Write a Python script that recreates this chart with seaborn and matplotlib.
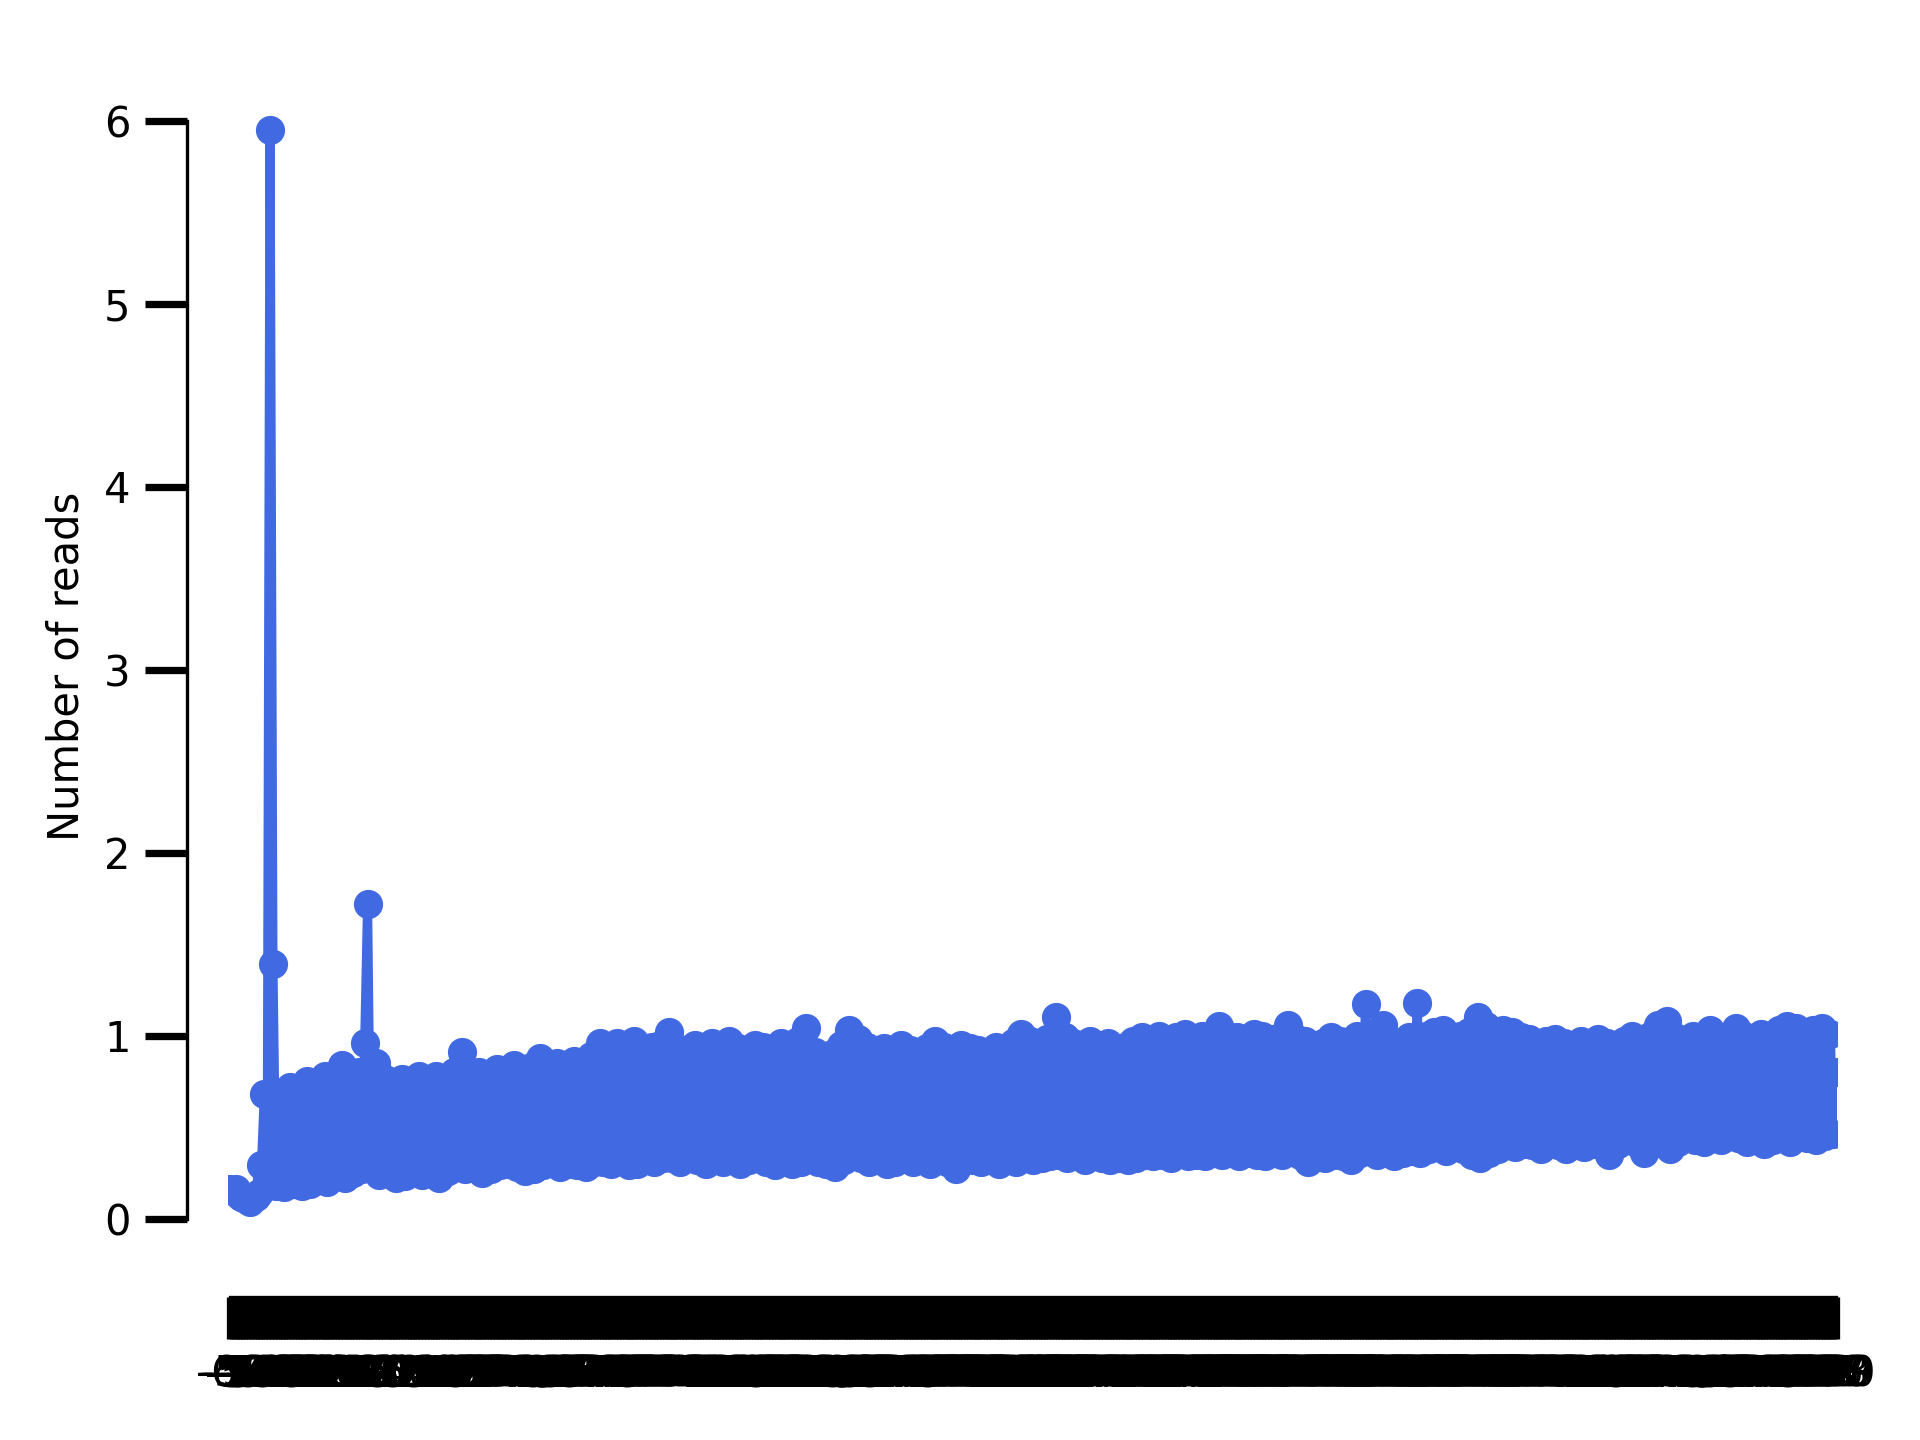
import matplotlib
matplotlib.use("Agg")
import matplotlib.pyplot as plt
import seaborn as sns
import pandas as pd

# positions relative to start codon (-60 .. 500), one category per nucleotide
positions = list(range(-60, 501))

# reads per position, in blocks
reads_upstream = [
    0.16, 0.15, 0.16, 0.13, 0.12, 0.11, 0.10, 0.09, 0.11, 0.12,
    0.14, 0.29, 0.68, 0.22, 5.95, 1.39, 0.18, 0.45, 0.62, 0.17,
    0.41, 0.72, 0.19, 0.44, 0.66, 0.18, 0.47, 0.75, 0.19, 0.43,
    0.69, 0.21, 0.46, 0.78, 0.20, 0.50, 0.71, 0.23, 0.52, 0.84,
    0.22, 0.48, 0.74, 0.25, 0.55, 0.80, 0.27, 0.96, 1.72, 0.30,
    0.58, 0.85, 0.24, 0.51, 0.76, 0.27, 0.49, 0.73, 0.22, 0.47,
]
reads_cds_000 = [
    0.76, 0.23, 0.50, 0.71, 0.26, 0.53, 0.78, 0.24, 0.49, 0.74,
    0.25, 0.52, 0.78, 0.22, 0.48, 0.72, 0.26, 0.54, 0.80, 0.28,
    0.55, 0.91, 0.27, 0.53, 0.77, 0.28, 0.56, 0.80, 0.25, 0.52,
    0.76, 0.27, 0.55, 0.82, 0.29, 0.57, 0.79, 0.30, 0.58, 0.84,
    0.28, 0.54, 0.78, 0.26, 0.56, 0.83, 0.27, 0.59, 0.88, 0.29,
    0.57, 0.81, 0.31, 0.58, 0.85, 0.28, 0.55, 0.79, 0.30, 0.60,
    0.86, 0.29, 0.57, 0.82, 0.28, 0.61, 0.89, 0.31, 0.63, 0.96,
    0.31, 0.60, 0.90, 0.30, 0.65, 0.96, 0.32, 0.62, 0.91, 0.29,
    0.64, 0.97, 0.30, 0.61, 0.92, 0.32, 0.66, 0.94, 0.31, 0.63,
    0.95, 0.33, 0.67, 1.02, 0.33, 0.64, 0.93, 0.31, 0.62, 0.90,
]
reads_cds_100 = [
    0.35, 0.66, 0.95, 0.32, 0.63, 0.91, 0.30, 0.65, 0.96, 0.33,
    0.62, 0.92, 0.31, 0.66, 0.97, 0.34, 0.64, 0.93, 0.30, 0.61,
    0.90, 0.32, 0.65, 0.95, 0.33, 0.67, 0.94, 0.31, 0.63, 0.92,
    0.29, 0.62, 0.96, 0.32, 0.64, 0.93, 0.30, 0.66, 0.97, 0.31,
    0.68, 1.04, 0.33, 0.63, 0.91, 0.31, 0.60, 0.88, 0.30, 0.62,
    0.90, 0.28, 0.64, 0.95, 0.32, 0.67, 1.03, 0.34, 0.65, 0.98,
    0.33, 0.63, 0.94, 0.31, 0.61, 0.90, 0.32, 0.64, 0.93, 0.30,
    0.62, 0.91, 0.31, 0.65, 0.95, 0.33, 0.63, 0.92, 0.31, 0.60,
    0.89, 0.32, 0.64, 0.93, 0.30, 0.66, 0.97, 0.32, 0.63, 0.94,
    0.31, 0.61, 0.92, 0.27, 0.62, 0.95, 0.33, 0.65, 0.93, 0.32,
]
reads_cds_200 = [
    0.64, 0.92, 0.31, 0.62, 0.90, 0.32, 0.65, 0.94, 0.30, 0.63,
    0.93, 0.33, 0.66, 0.96, 0.31, 0.64, 1.01, 0.34, 0.67, 0.97,
    0.32, 0.63, 0.94, 0.33, 0.68, 0.98, 0.34, 0.66, 1.10, 0.35,
    0.69, 0.99, 0.33, 0.65, 0.96, 0.34, 0.67, 0.95, 0.32, 0.64,
    0.97, 0.34, 0.66, 0.94, 0.33, 0.68, 0.96, 0.32, 0.65, 0.92,
    0.33, 0.66, 0.94, 0.32, 0.67, 0.97, 0.33, 0.69, 0.99, 0.35,
    0.68, 0.98, 0.34, 0.70, 1.00, 0.35, 0.67, 0.96, 0.33, 0.69,
    0.99, 0.36, 0.71, 1.01, 0.34, 0.68, 0.97, 0.35, 0.70, 1.00,
    0.34, 0.69, 0.98, 0.36, 0.72, 1.05, 0.35, 0.70, 1.00, 0.36,
    0.71, 0.99, 0.34, 0.68, 0.97, 0.36, 0.72, 1.01, 0.35, 0.70,
]
reads_cds_300 = [
    1.00, 0.34, 0.69, 0.98, 0.36, 0.71, 0.99, 0.35, 0.72, 1.06,
    0.37, 0.70, 0.98, 0.35, 0.69, 0.97, 0.31, 0.67, 0.95, 0.34,
    0.68, 0.96, 0.33, 0.70, 0.99, 0.35, 0.71, 0.97, 0.34, 0.69,
    0.96, 0.32, 0.70, 1.00, 0.36, 0.73, 1.17, 0.37, 0.72, 0.98,
    0.35, 0.74, 1.06, 0.37, 0.71, 0.97, 0.34, 0.70, 0.96, 0.36,
    0.72, 0.99, 0.37, 0.73, 1.18, 0.36, 0.71, 1.00, 0.38, 0.74,
    1.02, 0.39, 0.73, 1.03, 0.37, 0.72, 0.99, 0.40, 0.75, 1.00,
    0.38, 0.73, 1.02, 0.35, 0.71, 1.10, 0.33, 0.70, 1.05, 0.36,
    0.72, 1.01, 0.38, 0.74, 1.03, 0.40, 0.75, 1.02, 0.39, 0.73,
    0.99, 0.41, 0.74, 0.98, 0.40, 0.72, 0.96, 0.38, 0.73, 0.97,
]
reads_cds_400 = [
    0.42, 0.74, 0.98, 0.40, 0.73, 0.96, 0.38, 0.71, 0.95, 0.41,
    0.74, 0.97, 0.39, 0.72, 0.95, 0.41, 0.75, 0.98, 0.40, 0.73,
    0.96, 0.35, 0.71, 0.94, 0.41, 0.74, 0.97, 0.43, 0.76, 1.00,
    0.42, 0.75, 0.98, 0.36, 0.73, 1.00, 0.41, 0.77, 1.06, 0.43,
    0.78, 1.08, 0.38, 0.74, 0.99, 0.42, 0.76, 0.97, 0.44, 0.77,
    1.00, 0.43, 0.76, 0.98, 0.42, 0.75, 1.03, 0.44, 0.78, 0.99,
    0.43, 0.77, 0.97, 0.45, 0.76, 1.04, 0.44, 0.78, 1.00, 0.42,
    0.75, 0.98, 0.44, 0.77, 1.01, 0.41, 0.76, 1.00, 0.43, 0.78,
    1.03, 0.44, 0.77, 1.05, 0.42, 0.79, 1.04, 0.45, 0.78, 1.02,
    0.44, 0.77, 1.03, 0.43, 0.76, 1.04, 0.45, 0.79, 1.01, 0.46,
    0.80,
]

reads = (reads_upstream + reads_cds_000 + reads_cds_100 + reads_cds_200
         + reads_cds_300 + reads_cds_400)
df = pd.DataFrame({"position": positions, "reads": reads})

sns.set_style("ticks", {
    "axes.edgecolor": "black",
    "xtick.color": "black",
    "ytick.color": "black",
    "text.color": "black",
    "axes.labelcolor": "black",
})

fig, ax = plt.subplots(figsize=(6.4, 4.8))
fig.subplots_adjust(left=0.119, right=0.957, bottom=0.128, top=0.947)

sns.pointplot(
    data=df, x="position", y="reads",
    color="royalblue", errorbar=None,
    linewidth=2.2, markersize=5.5, markeredgewidth=1.5,
    ax=ax,
)

ax.set_xlabel("")
ax.set_ylabel("Number of reads")
ax.tick_params(axis="both", length=10, width=1.75)

sns.despine(offset=10, trim=True)

fig.savefig("out.png", dpi=300)
